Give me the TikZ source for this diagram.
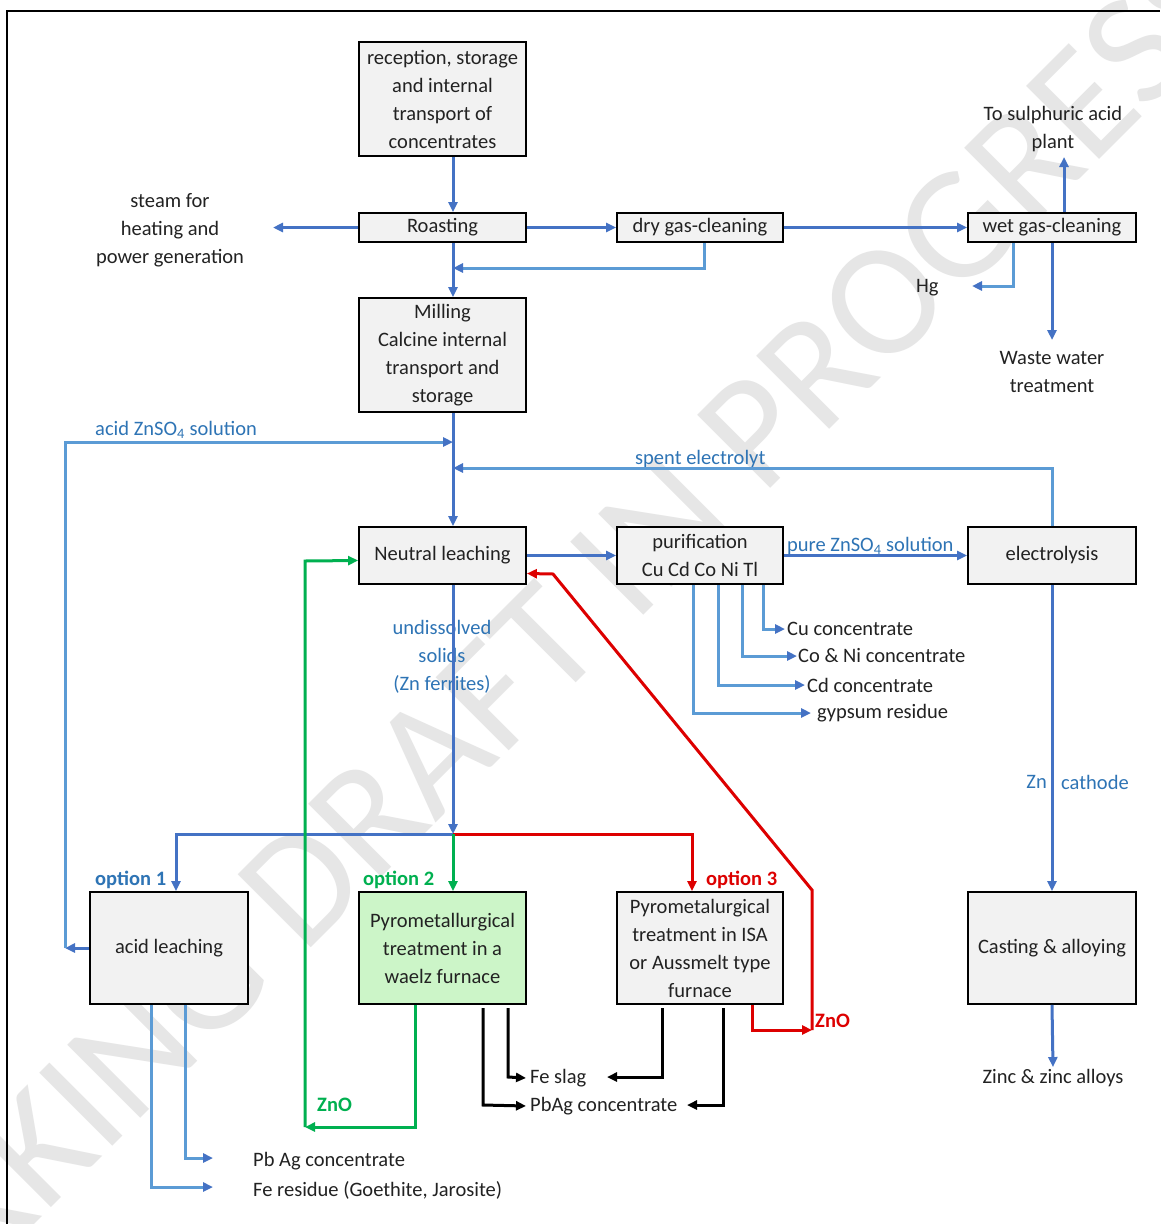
\documentclass[tikz,border=0pt]{standalone}
\usepackage{fontspec}
\setmainfont{Carlito}
\usetikzlibrary{arrows.meta}
\definecolor{mainblue}{HTML}{4472C4}
\definecolor{lightblue}{HTML}{5B9BD5}
\definecolor{textblue}{HTML}{2E74B5}
\definecolor{optgreen}{HTML}{00B050}
\definecolor{optred}{HTML}{DD0000}
\definecolor{boxgray}{HTML}{F2F2F2}
\definecolor{boxgreen}{HTML}{CCF5C8}
\definecolor{txt}{HTML}{222222}
\definecolor{wm}{HTML}{E6E6E6}
\begin{document}
\begin{tikzpicture}[x=1pt,y=-1pt,
  font=\fontsize{20.5}{28}\selectfont,
  pbox/.style={draw=black, line width=1.8pt, fill=boxgray, align=center, inner sep=0pt, text=txt},
  lbl/.style={inner sep=0pt, align=center, text=txt},
  blbl/.style={inner sep=0pt, align=center, text=textblue},
  tip/.style={-{Triangle[length=10pt,width=9pt]}},
  arr/.style={line width=3pt, draw=mainblue, tip},
  arrl/.style={line width=3pt, draw=lightblue, -{Triangle[length=10pt,width=9pt,color=mainblue]}},
  arrg/.style={line width=3pt, draw=optgreen, tip},
  arrr/.style={line width=3pt, draw=optred, tip},
  arrk/.style={line width=3pt, draw=black, tip}]
\useasboundingbox (0,0) rectangle (1160,1224);
\fill[white] (0,0) rectangle (1160,1224);

% watermark
\node[rotate=45, text=wm, inner sep=0pt, font=\fontsize{161}{161}\selectfont] (wmark) at (492,694) {WORKING DRAFT IN PROGRESS};

% frame
\draw[line width=2pt] (7,1224) -- (7,11) -- (1160,11);

% boxes
\node[pbox, minimum width=167pt, minimum height=114pt] (rec) at (442.5,99) {reception, storage\\and internal\\transport of\\concentrates};
\node[pbox, minimum width=167pt, minimum height=29pt] (roast) at (442.5,227.5) {Roasting};
\node[pbox, minimum width=166pt, minimum height=29pt] (dry) at (700,227.5) {dry gas-cleaning};
\node[pbox, minimum width=168pt, minimum height=29pt] (wet) at (1052,227.5) {wet gas-cleaning};
\node[pbox, minimum width=167pt, minimum height=114pt] (mill) at (442.5,355) {Milling\\Calcine internal\\transport and\\storage};
\node[pbox, minimum width=167pt, minimum height=57pt] (neut) at (442.5,555.5) {Neutral leaching};
\node[pbox, minimum width=166pt, minimum height=57pt] (puri) at (700,555.5) {purification\\Cu Cd Co Ni Tl};
\node[pbox, minimum width=168pt, minimum height=57pt] (elec) at (1052,555.5) {electrolysis};
\node[pbox, minimum width=158pt, minimum height=112pt] (acidl) at (169,948) {acid leaching};
\node[pbox, fill=boxgreen, minimum width=167pt, minimum height=112pt] (waelz) at (442.5,948) {Pyrometallurgical\\treatment in a\\waelz furnace};
\node[pbox, minimum width=166pt, minimum height=112pt] (isa) at (700,948) {Pyrometalurgical\\treatment in ISA\\or Aussmelt type\\furnace};
\node[pbox, minimum width=168pt, minimum height=112pt] (cast) at (1052,948) {Casting \& alloying};

% free texts
\node[lbl] (steam) at (170,230) {steam for\\heating and\\power generation};
\node[lbl] (sulph) at (1053,129) {To sulphuric acid\\plant};
\node[lbl, anchor=west] (hg) at (916,288) {Hg};
\node[lbl] (waste) at (1052,372) {Waste water\\treatment};
\node[blbl, anchor=west] (acidsol) at (95,430) {acid ZnSO\textsubscript{4} solution};
\node[blbl, anchor=west] (spent) at (635,459) {spent electrolyt};
\node[blbl, anchor=west] (pure) at (787,546) {pure ZnSO\textsubscript{4} solution};
\node[blbl] (undis) at (442,657) {undissolved\\solids\\(Zn ferrites)};
\node[lbl, anchor=west] (cu) at (787,629) {Cu concentrate};
\node[lbl, anchor=west] (coni) at (798,656) {Co \& Ni concentrate};
\node[lbl, anchor=west] (cd) at (807,685) {Cd concentrate};
\node[lbl, anchor=west] (gyp) at (817,713) {gypsum residue};
\node[blbl, anchor=east] (zn) at (1047,782) {Zn};
\node[blbl, anchor=west] (cath) at (1061,782) {cathode};
\node[blbl, anchor=west, font=\fontsize{20.5}{28}\selectfont\bfseries] (opt1) at (95,880) {option 1};
\node[lbl, anchor=west, text=optgreen, font=\fontsize{20.5}{28}\selectfont\bfseries] (opt2) at (363,880) {option 2};
\node[lbl, anchor=west, text=optred, font=\fontsize{20.5}{28}\selectfont\bfseries] (opt3) at (706,880) {option 3};
\node[lbl, anchor=west] (feslag) at (530,1078) {Fe slag};
\node[lbl, anchor=west] (pbag) at (530,1106) {PbAg concentrate};
\node[lbl, anchor=west, text=optgreen, font=\fontsize{20.5}{28}\selectfont\bfseries] (zno1) at (317,1105) {ZnO};
\node[lbl, anchor=west, text=optred, font=\fontsize{20.5}{28}\selectfont\bfseries] (zno2) at (815,1021) {ZnO};
\node[lbl] (zinc) at (1053,1078) {Zinc \& zinc alloys};
\node[lbl, anchor=west] (pbagc) at (253,1161) {Pb Ag concentrate};
\node[lbl, anchor=west] (feres) at (253,1190) {Fe residue (Goethite, Jarosite)};

% column coordinates
\coordinate (xc) at (453,0);
\coordinate (xdry) at (704,0);
\coordinate (xsul) at (1064,0);
\coordinate (xhg) at (1013,0);
\coordinate (xel) at (1052,0);
\coordinate (xo1) at (176,0);
\coordinate (xo3) at (692,0);
\coordinate (xwz) at (415,0);
\coordinate (xisa) at (752,0);
\coordinate (xa1) at (151,0);
\coordinate (xa2) at (185,0);
\coordinate (xp1) at (693,0);
\coordinate (xp2) at (718,0);
\coordinate (xp3) at (742,0);
\coordinate (xp4) at (763,0);
\coordinate (steamin) at (273,227.5);
\coordinate (sulin) at (1064,157);
\coordinate (hgin) at (972,286);
\coordinate (wastein) at (1052,340);
\coordinate (junc) at (453,834);

% connectors: top
\draw[arr] (xc |- rec.south) -- (xc |- roast.north);
\draw[arr] (roast.west) -- (steamin);
\draw[arr] (roast.east) -- (dry.west);
\draw[arr] (dry.east) -- (wet.west);
\draw[arrl] (xdry |- dry.south) -- (704,268) -- (453,268);
\draw[arr] (xc |- roast.south) -- (xc |- mill.north);
\draw[arr] (xsul |- wet.north) -- (sulin);
\draw[arrl] (xhg |- wet.south) -- (1013,286) -- (hgin);
\draw[arr] (xel |- wet.south) -- (wastein);
\draw[arr] (xc |- mill.south) -- (xc |- neut.north);

% recycle loops
\draw[arr] (acidl.west) -- (65,948);
\draw[arrl] (65,948) -- (65,442) -- (453,442);
\draw[arrl] (xel |- elec.north) -- (1052,468) -- (453,468);

% middle row
\draw[arr] (neut.east) -- (puri.west);
\draw[arr] (puri.east) -- (elec.west);
\draw[arrl] (xp4 |- puri.south) -- (xp4 |- cu.west) -- ([xshift=-2pt]cu.west);
\draw[arrl] (xp3 |- puri.south) -- (xp3 |- coni.west) -- ([xshift=-1pt]coni.west);
\draw[arrl] (xp2 |- puri.south) -- (xp2 |- cd.west) -- ([xshift=-2pt]cd.west);
\draw[arrl] (xp1 |- puri.south) -- (xp1 |- gyp.west) -- ([xshift=-6pt]gyp.west);
\draw[arr] (xel |- elec.south) -- (xel |- cast.north);
\draw[arr] (xel |- cast.south) -- ([yshift=2pt]zinc.north);

% options
\draw[arr] (xc |- neut.south) -- (junc);
\draw[arrr] (junc) -- (692,834) -- (xo3 |- isa.north);
\draw[arr] (junc) -- (176,834) -- (xo1 |- acidl.north);
\draw[arrg] (junc) -- (xc |- waelz.north);

% ZnO returns
\draw[arrg] (xwz |- waelz.south) -- (415,1127) -- (305,1127);
\draw[arrg] (305,1127) -- (305,561) -- ([yshift=-5pt]neut.west);
\draw[arrr] (xisa |- isa.south) -- (752,1030) -- (812,1030);
\draw[arrr] (812,1030) -- (812,890) -- (553,574) -- ([yshift=-18pt]neut.east);

% black outputs
\draw[arrk] (483,1008) -- (483,1105) -- ([xshift=-4pt]pbag.west);
\draw[arrk] (508,1008) -- (508,1077) -- ([xshift=-4pt]feslag.west);
\draw[arrk] (662,1008) -- (662,1077) -- (607,1077);
\draw[arrk] (723,1008) -- (723,1105) -- (687,1105);

% acid leaching outputs
\draw[arrl] (xa2 |- acidl.south) -- (185,1158) -- (213,1158);
\draw[arrl] (xa1 |- acidl.south) -- (151,1187) -- (213,1187);
\end{tikzpicture}
\end{document}
